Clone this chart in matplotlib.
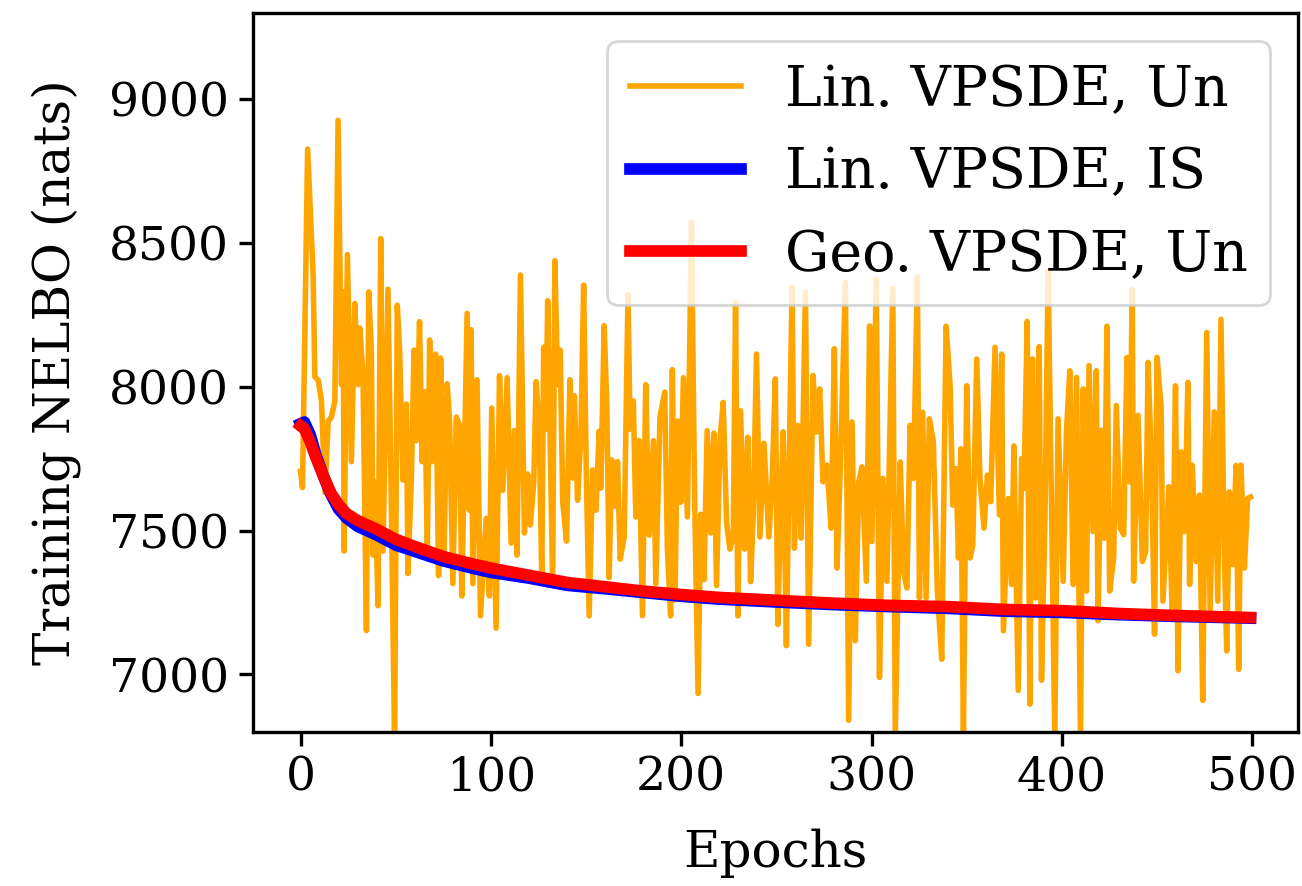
import matplotlib
matplotlib.use("Agg")
import matplotlib.pyplot as plt

# Lin. VPSDE, Un (noisy) -- epochs / values
un_epochs = [
    0, 1, 3.7, 6.6, 7.5, 9.3, 11, 12.8, 14.5, 16.2, 18, 19.7, 21.5, 22.4, 22.9,
    24.6, 26.7, 28.5, 30.2, 31.1, 32.8, 34.6, 35.8, 37.2, 38.1, 39, 40.7, 42.1,
    43.3, 45.9, 47.7, 49.4, 50.8, 52, 53.8, 55.6, 56.4, 58.2, 59.6, 60.8, 62.5,
    63.8, 65.2, 66.6, 67.8, 69, 70.9, 72.5, 73.6, 75.3, 77, 78.3, 80, 81.8, 83.5,
    84.7, 87.5, 88.7, 89.6, 90.5, 92.7, 94.5, 97.5, 99.2, 100.4, 102.7, 104.5,
    106.2, 108.5, 110.6, 112.3, 113.7, 115.5, 117.6, 119.3, 120.7, 122.5, 123.7,
    125.4, 126.7, 127.7, 128.9, 129.8, 131.6, 132.4, 133.6, 135, 136.4, 137.7,
    139.7, 141.5, 142.9, 143.8, 145.5, 147.3, 148.7, 150.1, 151.6, 153.4, 155.1,
    156.9, 157.7, 159.5, 160.9, 162.1, 163.4, 165.1, 166.5, 167.9, 170, 172,
    173.1, 174.8, 176.1, 177.8, 179.6, 181.3, 183.1, 185.4, 186.6, 188.8, 191.3,
    192.7, 194.4, 195.3, 196.7, 198, 199.7, 201.1, 203.2, 205.3, 207, 208.8,
    210.2, 211.9, 213.6, 215.4, 217.1, 218.5, 220.3, 222, 223.8, 225.5, 227.3,
    228.5, 229.7, 231.1, 233.2, 234.9, 236.4, 237.8, 239.5, 241.3, 243.4, 246,
    247.7, 249.4, 250.7, 252.1, 253.5, 255.2, 256.5, 258.2, 259.4, 261.2, 262.9,
    265.2, 266.9, 269.2, 270.9, 272.7, 274.4, 276.5, 278.7, 280.4, 281.8, 283.5,
    286.2, 287.9, 289.7, 291.4, 293.2, 294.9, 297.2, 298.9, 300.1, 302.4, 304.1,
    305.9, 308, 311.1, 312.4, 315, 316.7, 318.5, 320.2, 322, 324, 325.1, 326.8,
    328.6, 330.3, 332.4, 334.5, 336.8, 339.1, 341.2, 342.6, 344.3, 345.6, 346.8,
    348.2, 349.9, 351.7, 353.1, 355.2, 356.9, 359, 360.8, 362.5, 364.8, 367.1,
    368.3, 369.2, 371.8, 373.5, 374.7, 377, 378.8, 380, 381.7, 383.1, 384.5,
    386.2, 388, 389.2, 391, 392.7, 394.5, 396.2, 397.9, 400.6, 402.3, 404.1,
    405.8, 407.6, 409.7, 411.1, 412.8, 414.2, 416.3, 418, 418.9, 420.7, 422.2,
    423.6, 425, 427.1, 428.5, 430.6, 432.4, 434.1, 435.5, 436.9, 437.6, 439.9,
    442.2, 443.9, 445.2, 446.9, 448.6, 449.9, 452.1, 453, 456.1, 457.9, 459.6,
    460.9, 462.6, 464.4, 466.1, 467, 468.4, 470.4, 472.2, 473.9, 476, 477.8, 480,
    481.8, 483.5, 485.2, 486.5, 487.9, 489.6, 491.4, 492.8, 494, 495.8, 497.5, 499,
]
un_values = [
    7706, 7650, 8827, 8389, 8036, 8022, 7951, 7633, 7881, 7895, 7951, 8927, 8008, 8332, 7429,
    8460, 7740, 8290, 8008, 8205, 8036, 7153, 8330, 8121, 7415, 7669, 7239, 8516,
    7429, 8340, 7585, 6750, 8284, 8135, 7676, 7940, 7351, 7683, 8128, 7813, 8227,
    7740, 7983, 7446, 8163, 7740, 8114, 7344, 8100, 7401, 8011, 7881, 7316, 7895, 7867,
    7273, 8256, 7571, 8199, 7316, 8025, 7204, 7543, 7273, 7926, 7161, 8039,
    7640, 8032, 7457, 7848, 7415, 8389, 7492, 7697, 7520, 7669, 8018,
    7853, 7330, 8138, 7853, 8300, 7626, 7330, 8439, 8008, 8128, 7599,
    7464, 8025, 7683, 7969, 7606, 7839, 8354, 7697, 7204, 7711, 7571,
    7846, 7648, 8213, 7924, 7337, 7746, 7585, 7740, 7401, 7478, 8321,
    7853, 7951, 7548, 7813, 7204, 8008, 7485, 7813, 7316, 7896, 7982,
    7436, 7204, 8060, 7259, 7881, 7599, 8032, 7548, 8573, 7612, 6934,
    7557, 7330, 7848, 7492, 7839, 7309, 7813, 7946, 7527, 7436, 7478,
    8293, 7204, 7917, 7436, 7825, 7323, 7557, 8114, 7478, 7804, 7478,
    7670, 8028, 7174, 7555, 7844, 7100, 7670, 8346, 7439, 7866, 7474,
    8329, 7105, 8040, 7843, 7993, 7670, 7728, 7509, 8133, 7370, 7716,
    8363, 6841, 7878, 7117, 7670, 7722, 7324, 8212, 7462, 8374, 6990,
    7682, 7324, 8342, 6790, 7739, 7359, 7301, 7866, 7682, 8382, 7266, 7912,
    7266, 7889, 7808, 7290, 7053, 8211, 8004, 7589, 7716, 7405, 7785,
    6790, 8004, 7405, 7451, 8097, 7682, 7509, 7693, 7601, 8138, 7555,
    8114, 7152, 7612, 7313, 7795, 6945, 7751, 7647, 8228, 6897, 8097,
    7266, 8140, 6980, 7532, 8402, 7566, 6780, 7889, 7324, 7843, 8056,
    7313, 8033, 6780, 7993, 7290, 8074, 7497, 8056, 7187, 7849, 7474,
    8211, 7290, 7405, 7935, 7509, 7486, 8102, 7670, 8339, 7325, 7901,
    7393, 7428, 8085, 7751, 7140, 8103, 7924, 7255, 7653, 7197, 8004,
    7013, 7774, 7497, 8016, 7313, 7728, 7393, 7624, 6910, 8189, 7220, 7913,
    7255, 8235, 7439, 7082, 7635, 7382, 7727, 7018, 7728, 7370, 7612, 7617,
]

# Lin. VPSDE, IS and Geo. VPSDE, Un (smooth curves)
smooth_epochs = [0, 2, 5, 8, 12, 16, 20, 24, 30, 40, 50, 60, 75, 90, 100, 120, 140,
                 160, 180, 200, 220, 250, 280, 310, 340, 370, 400, 430, 460, 499]
is_values = [7872, 7878, 7835, 7765, 7690, 7625, 7575, 7545, 7515, 7485, 7450, 7428,
             7395, 7370, 7355, 7335, 7310, 7298, 7285, 7272, 7262, 7252, 7243, 7236,
             7230, 7220, 7216, 7208, 7202, 7196]
geo_values = [7865, 7855, 7810, 7755, 7690, 7630, 7590, 7560, 7535, 7505, 7470, 7445,
              7410, 7385, 7370, 7345, 7320, 7305, 7290, 7278, 7268, 7258, 7248, 7240,
              7236, 7226, 7222, 7212, 7205, 7198]

plt.rcParams["font.family"] = ["DejaVu Serif"]

fig = plt.figure(figsize=(6.51, 4.43), dpi=200)
ax = fig.add_axes([0.1943, 0.1738, 0.8027, 0.8115])

ax.plot(un_epochs, un_values, color="orange", linewidth=2.0, label="Lin. VPSDE, Un")
ax.plot(smooth_epochs, is_values, color="blue", linewidth=4.2, label="Lin. VPSDE, IS")
ax.plot(smooth_epochs, geo_values, color="red", linewidth=4.2, label="Geo. VPSDE, Un")

ax.set_xlim(-25, 524)
ax.set_ylim(6800, 9300)
ax.set_xticks([0, 100, 200, 300, 400, 500])
ax.set_yticks([7000, 7500, 8000, 8500, 9000])
ax.tick_params(labelsize=17, width=1.2, length=5)
for s in ax.spines.values():
    s.set_linewidth(1.2)

ax.set_xlabel("Epochs", fontsize=18, labelpad=10)
ax.set_ylabel("Training NELBO (nats)", fontsize=18, labelpad=10)
ax.legend(loc="upper right", fontsize=20, handlelength=2.0)

fig.savefig("out.png", dpi=200)
